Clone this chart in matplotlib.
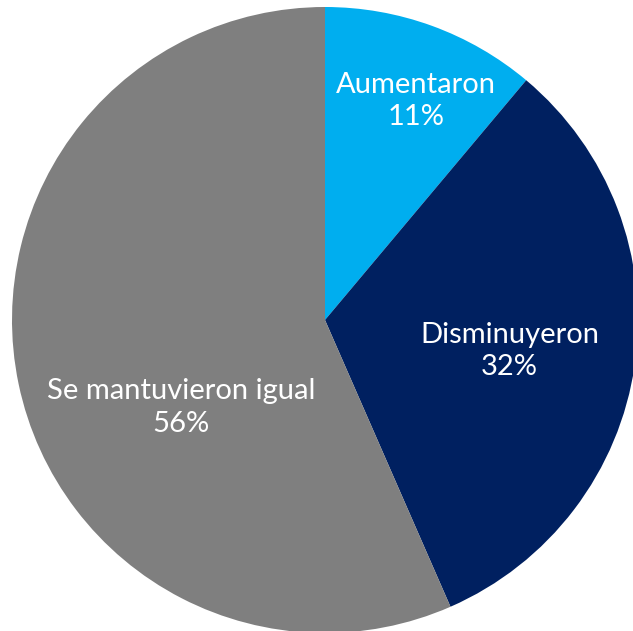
import matplotlib
matplotlib.use("Agg")
import matplotlib.pyplot as plt

# data
labels = ["Aumentaron", "Disminuyeron", "Se mantuvieron igual"]
values = [11, 32, 56]
colors = ["#00AEEF", "#002060", "#7F7F7F"]

# label centres in pie-radius units (placed by hand in the original)
label_pos = [(0.29, 0.70), (0.59, -0.10), (-0.46, -0.28)]

W, H = 633, 631
fig = plt.figure(figsize=(W / 100, H / 100), dpi=100)
cx, cy, r = 325, 320, 313
ax = fig.add_axes([(cx - r) / W, (H - cy - r) / H, 2 * r / W, 2 * r / H])

wedges, _ = ax.pie(values, colors=colors, startangle=90, counterclock=False,
                   radius=1, wedgeprops=dict(linewidth=0))
ax.set_xlim(-1, 1)
ax.set_ylim(-1, 1)
ax.axis("off")

for name, v, (x, y) in zip(labels, values, label_pos):
    ax.text(x, y, f"{name}\n{v}%", color="white", ha="center", va="center",
            fontsize=21, linespacing=1.3, family="Lato")

fig.savefig("out.png", dpi=100)
